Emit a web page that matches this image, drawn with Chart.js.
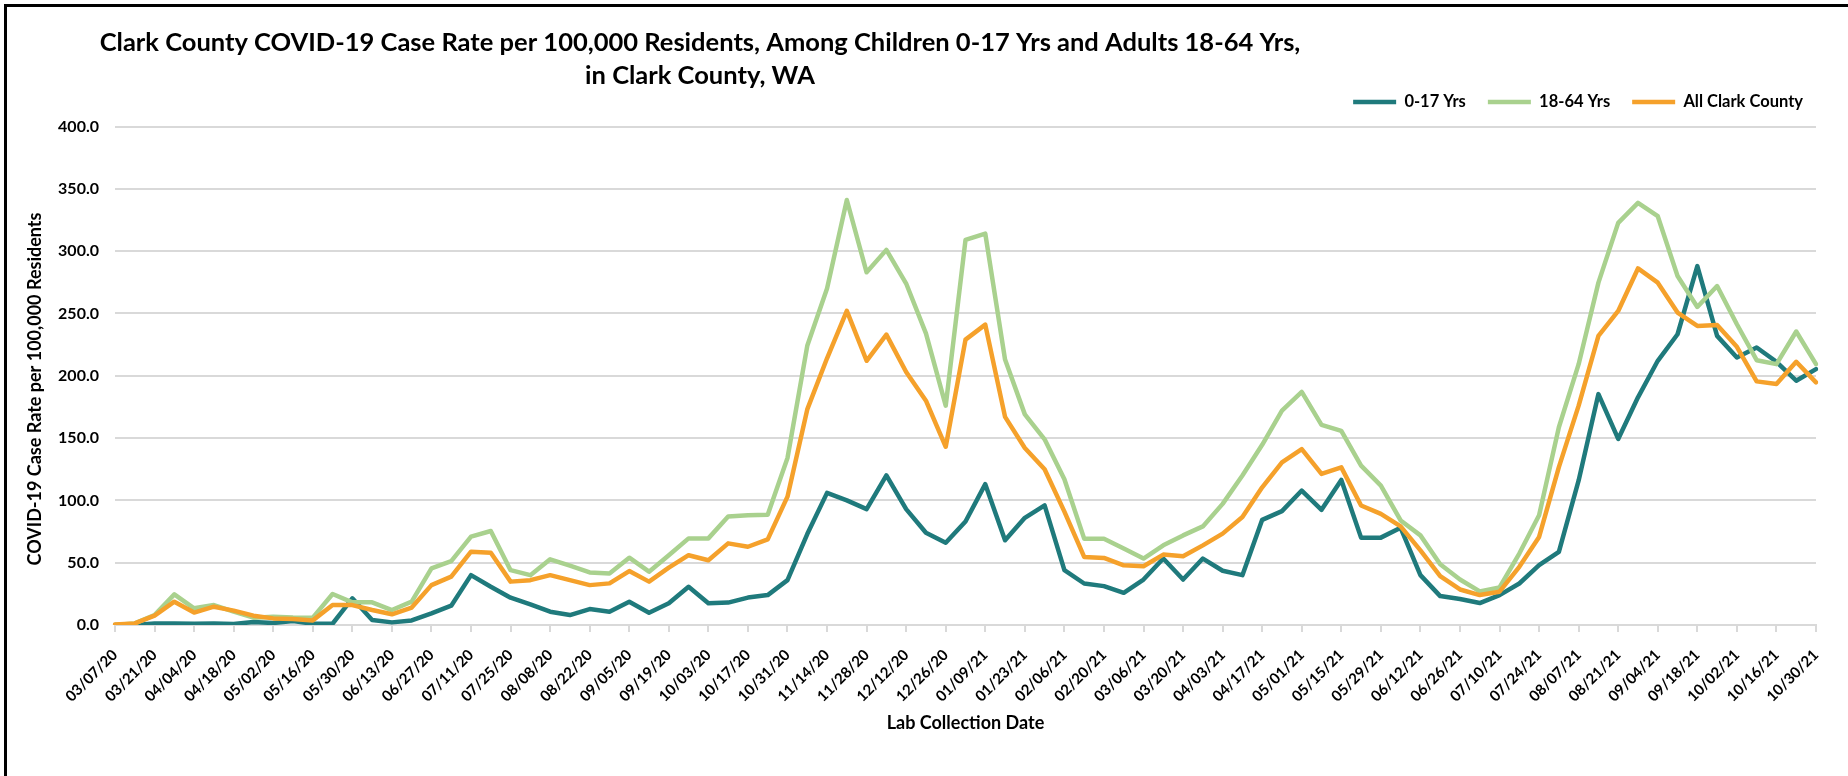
<!DOCTYPE html>
<html>
<head>
<meta charset="utf-8">
<title>Clark County COVID-19 Case Rate</title>
<script src="https://cdn.jsdelivr.net/npm/chart.js@4.4.1/dist/chart.umd.min.js"></script>
<style>
    body { margin: 0; background: #fff; }
    canvas { display: block; }
</style>
</head>
<body>
<canvas id="caseChart" width="1848" height="776"></canvas>
<script>
// Week of lab collection (Saturday)
var weeks = [
    "03/07/20", "03/14/20", "03/21/20", "03/28/20", "04/04/20", "04/11/20", "04/18/20", "04/25/20",
    "05/02/20", "05/09/20", "05/16/20", "05/23/20", "05/30/20", "06/06/20", "06/13/20", "06/20/20",
    "06/27/20", "07/04/20", "07/11/20", "07/18/20", "07/25/20", "08/01/20", "08/08/20", "08/15/20",
    "08/22/20", "08/29/20", "09/05/20", "09/12/20", "09/19/20", "09/26/20", "10/03/20", "10/10/20",
    "10/17/20", "10/24/20", "10/31/20", "11/07/20", "11/14/20", "11/21/20", "11/28/20", "12/05/20",
    "12/12/20", "12/19/20", "12/26/20", "01/02/21", "01/09/21", "01/16/21", "01/23/21", "01/30/21",
    "02/06/21", "02/13/21", "02/20/21", "02/27/21", "03/06/21", "03/13/21", "03/20/21", "03/27/21",
    "04/03/21", "04/10/21", "04/17/21", "04/24/21", "05/01/21", "05/08/21", "05/15/21", "05/22/21",
    "05/29/21", "06/05/21", "06/12/21", "06/19/21", "06/26/21", "07/03/21", "07/10/21", "07/17/21",
    "07/24/21", "07/31/21", "08/07/21", "08/14/21", "08/21/21", "08/28/21", "09/04/21", "09/11/21",
    "09/18/21", "09/25/21", "10/02/21", "10/09/21", "10/16/21", "10/23/21", "10/30/21"
];

// Case rate per 100,000, children 0-17
var children = [
    0, 0, 1.3, 1.3, 1.0, 1.3, 0.8, 2.4, 1.6, 3.2, 1.0, 1.0, 21.4, 4.0, 2.1, 3.7,
    9.4, 15.5, 40.0, 30.7, 21.9, 16.6, 10.7, 8.0, 12.8, 10.7, 18.7, 9.9, 17.4, 30.7, 17.4, 18.0,
    22.0, 24.0, 36.0, 73.0, 106.0, 100.0, 93.0, 120.0, 93.0, 74.0, 66.0, 83.0, 113.0, 68.0, 86.0, 96.0,
    44.0, 33.3, 31.2, 25.8, 36.5, 53.3, 36.5, 53.3, 43.5, 40.0, 84.4, 91.4, 107.9, 92.4, 116.4, 70.1,
    70.1, 78.0, 40.0, 23.2, 20.8, 17.6, 24.0, 33.3, 48.0, 58.7, 116.0, 185.3, 149.3, 182.7, 212.0, 233.3,
    288.0, 232.0, 214.7, 222.7, 211.2, 196.0, 205.3
];

// Case rate per 100,000, adults 18-64
var adults = [
    0, 1.3, 8.0, 24.6, 13.4, 16.0, 10.7, 5.9, 6.7, 6.1, 5.9, 24.9, 18.2, 18.2, 12.0, 18.7,
    45.5, 51.3, 70.9, 75.4, 44.0, 40.0, 52.7, 47.6, 42.2, 41.4, 54.0, 42.8, 56.0, 69.5, 69.5, 87.0,
    88.0, 88.5, 134.0, 224.0, 270.0, 341.0, 283.0, 301.0, 274.0, 234.0, 176.0, 309.0, 314.0, 213.0, 169.0, 149.0,
    117.0, 69.3, 69.3, 61.3, 53.3, 63.9, 71.9, 79.1, 97.2, 119.9, 144.6, 172.0, 187.0, 160.6, 155.8, 127.9,
    111.9, 83.9, 71.9, 48.7, 36.5, 27.0, 30.1, 57.3, 88.0, 158.7, 209.3, 274.7, 322.7, 338.7, 328.0, 280.0,
    255.2, 272.0, 241.3, 212.5, 209.3, 235.5, 209.3
];

// Case rate per 100,000, whole county
var allCounty = [
    0.5, 1.3, 7.5, 18.7, 10.0, 14.7, 11.5, 7.5, 5.3, 4.8, 3.7, 16.0, 16.0, 12.0, 8.6, 14.0,
    32.0, 38.8, 58.8, 58.0, 34.8, 36.0, 40.0, 36.0, 32.0, 33.4, 43.3, 34.8, 46.0, 56.0, 52.0, 65.5,
    62.8, 68.7, 103.0, 173.0, 214.0, 252.0, 212.0, 233.0, 203.0, 180.0, 143.0, 229.0, 241.0, 167.0, 142.0, 125.0,
    91.0, 54.6, 53.8, 47.9, 47.1, 56.5, 55.1, 63.9, 73.3, 86.6, 110.5, 130.5, 141.2, 121.2, 126.5, 95.9,
    89.2, 79.1, 59.9, 39.2, 28.5, 24.0, 26.7, 46.7, 70.7, 126.7, 176.0, 232.0, 252.0, 286.1, 274.7, 250.7,
    240.0, 240.8, 223.2, 195.5, 193.3, 211.2, 194.7
];

var titleLines = [
    "Clark County COVID-19 Case Rate per 100,000 Residents, Among Children 0-17 Yrs and Adults 18-64 Yrs,",
    "in Clark County, WA"
];
var yAxisTitle = "COVID-19 Case Rate per 100,000 Residents";

var fontFamily = "Lato, 'Open Sans', sans-serif";
Chart.defaults.font.family = fontFamily;
Chart.defaults.font.weight = "bold";
Chart.defaults.color = "#000";

// Two-line title, rotated y title and the black frame on top and left
var titleAndFrame = {
    id: "titleAndFrame",
    afterLayout: function (chart) {
        // pull the legend row up a little, the plot top stays where it is
        chart.legend.top -= 6.3;
        chart.legend.bottom -= 6.3;
    },
    afterDraw: function (chart) {
        var ctx = chart.ctx;
        ctx.save();
        ctx.fillStyle = "#000";
        ctx.textAlign = "center";
        ctx.textBaseline = "alphabetic";
        ctx.font = "bold 25.5px " + fontFamily;
        ctx.fillText(titleLines[0], 700, 51);
        ctx.fillText(titleLines[1], 700, 84);

        ctx.font = "bold 18px " + fontFamily;
        ctx.textBaseline = "middle";
        ctx.translate(35, 389);
        ctx.rotate(-Math.PI / 2);
        ctx.fillText(yAxisTitle, 0, 0);
        ctx.restore();

        ctx.save();
        ctx.fillStyle = "#000";
        ctx.fillRect(4, 4, chart.width - 4, 3);
        ctx.fillRect(4, 4, 3, chart.height - 4);
        ctx.restore();
    },
};

function series(label, values, color, order) {
    return {
        label: label,
        data: values,
        borderColor: color,
        backgroundColor: color,
        borderWidth: 4.5,
        borderCapStyle: "round",
        borderJoinStyle: "round",
        pointRadius: 0,
        pointHoverRadius: 0,
        tension: 0,
        fill: false,
        order: order,
    };
}

var ctx = document.getElementById("caseChart").getContext("2d");

var caseChart = new Chart(ctx, {
    type: "line",
    data: {
        labels: weeks,
        datasets: [
            series("0-17 Yrs", children, "#1f7a7c", 3),
            series("18-64 Yrs", adults, "#a9d18e", 2),
            series("All Clark County", allCounty, "#f5a12b", 1),
        ],
    },
    options: {
        responsive: false,
        animation: false,
        layout: {
            padding: { top: 65, right: 23, bottom: 0, left: 10 },
        },
        plugins: {
            title: { display: false },
            tooltip: { enabled: false },
            legend: {
                position: "top",
                align: "end",
                labels: {
                    usePointStyle: true,
                    pointStyle: "line",
                    pointStyleWidth: 43,
                    padding: 22,
                    color: "#000",
                    font: { size: 16.5, weight: "bold" },
                    sort: function (a, b) {
                        return a.datasetIndex - b.datasetIndex;
                    },
                },
            },
        },
        scales: {
            x: {
                offset: false,
                grid: {
                    display: true,
                    drawOnChartArea: false,
                    drawTicks: true,
                    tickLength: 7,
                    color: "#d9d9d9",
                    lineWidth: 2,
                },
                border: { display: true, color: "#d9d9d9", width: 2 },
                ticks: {
                    autoSkip: false,
                    maxRotation: 45,
                    minRotation: 45,
                    padding: 14,
                    font: { size: 15, weight: "bold" },
                    color: "#000",
                    callback: function (value, index) {
                        return index % 2 === 0 ? this.getLabelForValue(value) : null;
                    },
                },
                title: {
                    display: true,
                    text: "Lab Collection Date",
                    font: { size: 18, weight: "bold" },
                    color: "#000",
                    padding: { top: 4, bottom: 42.2 },
                },
                afterFit: function (scale) {
                    scale.height = 151;
                    scale.paddingRight = 32;
                },
            },
            y: {
                min: 0,
                max: 400,
                grid: {
                    color: "#d9d9d9",
                    lineWidth: 2,
                    drawTicks: false,
                },
                border: { display: false },
                ticks: {
                    stepSize: 50,
                    padding: 16,
                    font: { size: 16, weight: "bold" },
                    color: "#000",
                    callback: function (value) {
                        return value.toFixed(1);
                    },
                },
                afterFit: function (scale) {
                    scale.width = 105;
                    scale.paddingTop = 126.5;
                },
            },
        },
    },
    plugins: [titleAndFrame],
});
</script>
</body>
</html>
